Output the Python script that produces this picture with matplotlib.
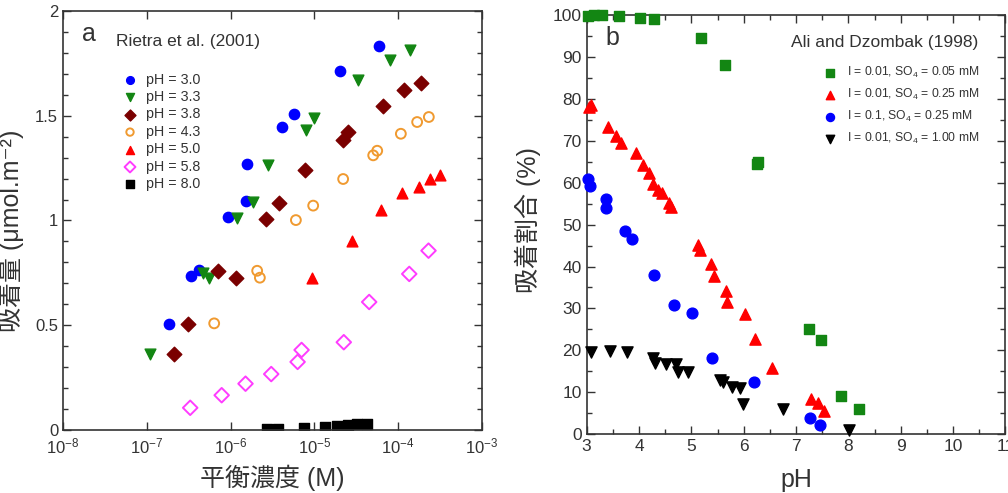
import numpy as np
import matplotlib
matplotlib.use('Agg')
import matplotlib.pyplot as plt
from matplotlib.ticker import MultipleLocator, FixedLocator, NullLocator, FuncFormatter, LogFormatterSciNotation

plt.rcParams['font.family'] = ['Liberation Sans', 'Noto Sans CJK JP', 'DejaVu Sans']
plt.rcParams['mathtext.fontset'] = 'custom'
plt.rcParams['mathtext.rm'] = 'Liberation Sans'
plt.rcParams['mathtext.it'] = 'Liberation Sans:italic'
plt.rcParams['mathtext.bf'] = 'Liberation Sans:bold'

# ---- panel a: Rietra et al. (2001), conc (M) vs adsorbed (umol/m2)
ph30_c = [1.85e-7, 3.36e-7, 4.24e-7, 9.4e-7, 1.51e-6, 1.58e-6, 4.14e-6, 5.7e-6, 2.02e-5, 5.9e-5]
ph30_q = [0.505, 0.736, 0.762, 1.017, 1.095, 1.268, 1.446, 1.507, 1.714, 1.832]
ph33_c = [1.08e-7, 4.72e-7, 5.48e-7, 1.19e-6, 1.87e-6, 2.77e-6, 7.87e-6, 9.9e-6, 3.34e-5, 8.05e-5, 1.39e-4]
ph33_q = [0.361, 0.748, 0.727, 1.01, 1.09, 1.265, 1.433, 1.488, 1.671, 1.766, 1.814]
ph38_c = [2.13e-7, 3.1e-7, 7.0e-7, 1.17e-6, 2.62e-6, 3.81e-6, 7.78e-6, 2.21e-5, 2.54e-5, 6.64e-5, 1.18e-4, 1.89e-4]
ph38_q = [0.361, 0.505, 0.757, 0.727, 1.007, 1.084, 1.241, 1.383, 1.424, 1.547, 1.621, 1.656]
ph43_c = [6.38e-7, 2.08e-6, 2.24e-6, 6.03e-6, 9.7e-6, 2.21e-5, 5.05e-5, 5.64e-5, 1.08e-4, 1.69e-4, 2.33e-4]
ph43_q = [0.509, 0.760, 0.727, 1.002, 1.071, 1.198, 1.311, 1.333, 1.414, 1.470, 1.494]
ph50_c = [9.3e-6, 2.81e-5, 6.24e-5, 1.12e-4, 1.79e-4, 2.39e-4, 3.15e-4]
ph50_q = [0.727, 0.904, 1.05, 1.133, 1.16, 1.197, 1.217]
ph58_c = [3.3e-7, 7.84e-7, 1.51e-6, 3.06e-6, 6.32e-6, 7.05e-6, 2.25e-5, 4.52e-5, 1.36e-4, 2.31e-4]
ph58_q = [0.106, 0.166, 0.221, 0.267, 0.325, 0.382, 0.419, 0.611, 0.745, 0.856]
ph80_c = [2.7e-6, 3.65e-6, 7.57e-6, 1.34e-5, 1.87e-5, 2.54e-5, 3.25e-5, 4.2e-5]
ph80_q = [0.005, 0.005, 0.008, 0.012, 0.02, 0.022, 0.028, 0.03]

# ---- panel b: Ali and Dzombak (1998), pH vs adsorbed fraction (%)
s005_ph = [3.02, 3.14, 3.29, 3.61, 4.02, 4.29, 5.19, 5.65, 6.25, 6.28, 7.24, 7.48, 7.86, 8.21]
s005_pct = [99.9, 100, 100, 99.8, 99.3, 99.2, 94.5, 88.2, 64.4, 65.0, 25.1, 22.4, 9.1, 5.9]
s025_ph = [3.04, 3.08, 3.40, 3.56, 3.66, 3.94, 4.07, 4.20, 4.26, 4.37, 4.44, 4.58, 4.61,
           5.12, 5.17, 5.38, 5.44, 5.66, 5.68, 6.03, 6.22, 6.54, 7.29, 7.42, 7.53]
s025_pct = [78.0, 78.6, 73.2, 71.2, 69.4, 67.0, 64.2, 62.4, 59.7, 58.3, 57.5, 55.1, 54.3,
            45.1, 43.9, 40.5, 37.7, 34.2, 31.6, 28.7, 22.8, 15.7, 8.3, 7.3, 5.5]
i01_ph = [3.03, 3.06, 3.37, 3.37, 3.73, 3.86, 4.29, 4.66, 5.01, 5.40, 6.20, 7.27, 7.45]
i01_pct = [61.0, 59.2, 56.1, 53.9, 48.5, 46.6, 37.9, 30.8, 29.0, 18.1, 12.4, 3.9, 2.1]
s100_ph = [3.08, 3.45, 3.77, 4.26, 4.31, 4.52, 4.70, 4.74, 4.94, 5.54, 5.60, 5.77, 5.92, 5.98, 6.75, 8.02]
s100_pct = [19.7, 19.9, 19.6, 18.1, 17.0, 16.6, 16.6, 14.9, 14.7, 12.9, 12.5, 11.3, 10.9, 7.2, 5.9, 1.0]

ax_col = '#333333'
green = '#138613'

fig = plt.figure(figsize=(10.08, 4.93), dpi=100)
ax1 = fig.add_axes([0.0625, 0.1278, 0.4155, 0.8499])
ax2 = fig.add_axes([0.582, 0.1197, 0.4155, 0.8493])


def style_axes(ax, fs):
    for sp in ax.spines.values():
        sp.set_color(ax_col)
        sp.set_linewidth(1.2)
    ax.tick_params(which='both', direction='in', top=True, right=True,
                   colors=ax_col, labelcolor='#333333', labelsize=fs, width=1.0)
    ax.tick_params(which='major', length=6)
    ax.tick_params(which='minor', length=3.5)


# panel a
ax1.scatter(ph30_c, ph30_q, marker='o', s=55, color='blue', label='pH = 3.0')
ax1.scatter(ph33_c, ph33_q, marker='v', s=60, color=green, label='pH = 3.3')
ax1.scatter(ph38_c, ph38_q, marker='D', s=55, color='#7a0000', label='pH = 3.8')
ax1.scatter(ph43_c, ph43_q, marker='o', s=50, facecolors='none', edgecolors='#f09a30',
            linewidths=1.4, label='pH = 4.3')
ax1.scatter(ph50_c, ph50_q, marker='^', s=60, color='red', label='pH = 5.0')
ax1.scatter(ph58_c, ph58_q, marker='D', s=55, facecolors='none', edgecolors='#ff3cff',
            linewidths=1.4, label='pH = 5.8')
ax1.scatter(ph80_c, ph80_q, marker='s', s=55, color='black', label='pH = 8.0')

ax1.set_xscale('log')
ax1.set_xlim(1e-8, 1e-3)
ax1.set_ylim(0, 2)
ax1.xaxis.set_major_locator(FixedLocator([1e-8, 1e-7, 1e-6, 1e-5, 1e-4, 1e-3]))
ax1.xaxis.set_major_formatter(LogFormatterSciNotation())
ax1.xaxis.set_minor_locator(NullLocator())
ax1.yaxis.set_major_locator(MultipleLocator(0.5))
ax1.yaxis.set_minor_locator(MultipleLocator(0.1))
ax1.yaxis.set_major_formatter(FuncFormatter(lambda v, p: '%g' % v))
style_axes(ax1, 12)
ax1.tick_params(axis='x', pad=5)
ax1.set_xlabel('平衡濃度 (M)', fontsize=18, color='#333333', labelpad=6)
ax1.set_ylabel('吸着量 (μmol.m⁻²)', fontsize=18, color='#333333')
ax1.yaxis.set_label_coords(-0.092, 0.475)
ax1.text(0.045, 0.945, 'a', transform=ax1.transAxes, fontsize=18, color='#333333', va='center')
ax1.text(0.1265, 0.928, 'Rietra et al. (2001)', transform=ax1.transAxes, fontsize=12.5,
         color='#333333', va='center')
ax1.legend(loc='upper left', bbox_to_anchor=(0.119, 0.877), frameon=False, fontsize=10.3,
           markerscale=0.75, handletextpad=0.6, labelspacing=0.24, borderpad=0.2,
           handlelength=1.0, labelcolor='#333333')

# panel b
ax2.scatter(s005_ph, s005_pct, marker='s', s=55, color=green, label='I = 0.01, SO$_4$ = 0.05 mM', zorder=3)
ax2.scatter(s025_ph, s025_pct, marker='^', s=65, color='red', label='I = 0.01, SO$_4$ = 0.25 mM', zorder=3)
ax2.scatter(i01_ph, i01_pct, marker='o', s=60, color='blue', label='I = 0.1, SO$_4$ = 0.25 mM', zorder=3)
ax2.scatter(s100_ph, s100_pct, marker='v', s=65, color='black', label='I = 0.01, SO$_4$ = 1.00 mM', zorder=3)
ax2.set_xlim(3, 11)
ax2.set_ylim(0, 100)
ax2.xaxis.set_major_locator(MultipleLocator(1))
ax2.xaxis.set_minor_locator(MultipleLocator(0.5))
ax2.yaxis.set_major_locator(MultipleLocator(10))
ax2.yaxis.set_minor_locator(MultipleLocator(5))
style_axes(ax2, 12.5)
for sc in ax2.collections:
    sc.set_clip_on(False)
ax2.set_xlabel('pH', fontsize=18, color='#333333', labelpad=10)
ax2.set_ylabel('吸着割合 (%)', fontsize=18, color='#333333')
ax2.yaxis.set_label_coords(-0.11, 0.51)
ax2.text(0.045, 0.945, 'b', transform=ax2.transAxes, fontsize=18, color='#333333', va='center')
ax2.text(0.934, 0.934, 'Ali and Dzombak (1998)', transform=ax2.transAxes, fontsize=12.5,
         color='#333333', va='center', ha='right')
ax2.legend(loc='upper left', bbox_to_anchor=(0.544, 0.902), frameon=False, fontsize=8.7,
           markerscale=0.75, handletextpad=0.8, labelspacing=0.58, borderpad=0.2,
           handlelength=1.2, labelcolor='#333333')

plt.savefig('out.png', dpi=100)
